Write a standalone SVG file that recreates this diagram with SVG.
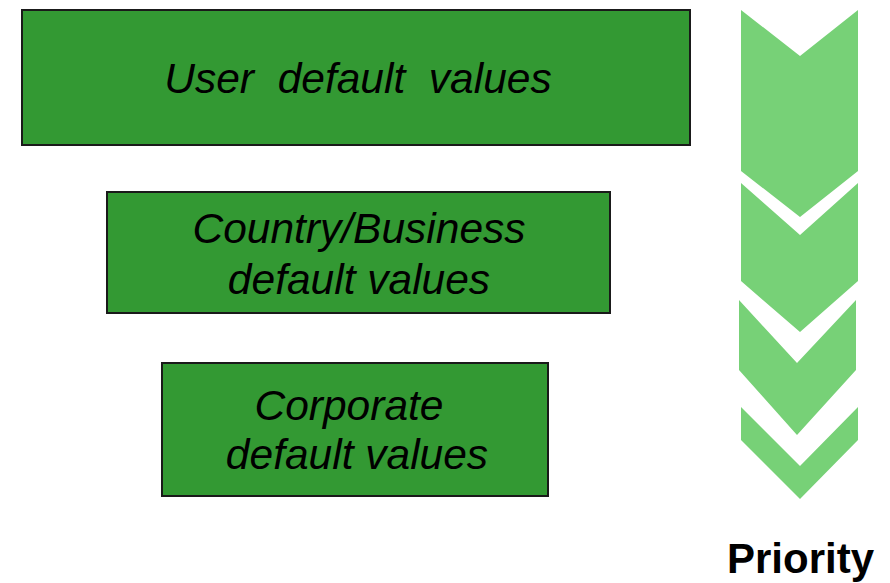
<svg xmlns="http://www.w3.org/2000/svg" width="890" height="583" viewBox="0 0 890 583">
<style>
.box{fill:#339933;stroke:#1a1a1a;stroke-width:2}
.lbl{font-family:"Liberation Sans",Arial,sans-serif;font-style:italic;font-size:42.5px;fill:#000;text-anchor:middle;white-space:pre}
.chev{fill:#77d177}
.pri{font-family:"Liberation Sans",Arial,sans-serif;font-weight:bold;font-size:42px;fill:#000}
</style>
<rect width="890" height="583" fill="#fff"/>
<g id="node-user">
<rect class="box" x="22" y="10" width="668" height="135"/>
<text class="lbl" x="358" y="93" xml:space="preserve">User  default  values</text>
</g>
<g id="node-country">
<rect class="box" x="107" y="192" width="503" height="121"/>
<text class="lbl" x="359" y="243">Country/Business</text>
<text class="lbl" x="359" y="294">default values</text>
</g>
<g id="node-corporate">
<rect class="box" x="162" y="363" width="386" height="133"/>
<text class="lbl" x="349" y="420">Corporate</text>
<text class="lbl" x="357" y="469">default values</text>
</g>
<g id="connectors">
<polygon class="chev" points="741,10 800,56 858,10 858,171 800,217 741,171"/>
<polygon class="chev" points="741,183 800,235 858,183 858,281 800,332 741,281"/>
<polygon class="chev" points="739,300 797,363 856,300 856,370 797,435 739,370"/>
<polygon class="chev" points="741,407 800,466 858,407 858,440 800,499 741,440"/>
</g>
<g id="label-priority">
<text class="pri" x="727" y="573">Priority</text>
</g>
</svg>
